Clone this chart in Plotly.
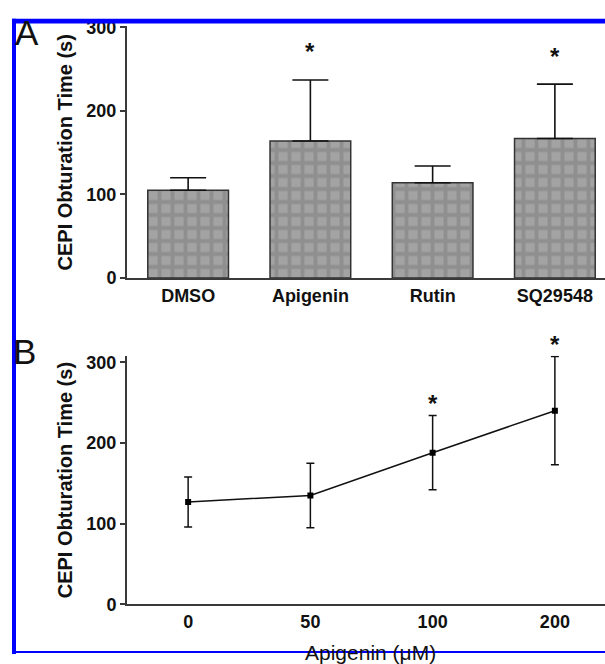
import plotly.graph_objects as go

# ---- Panel A data ----
treatments = ["DMSO", "Apigenin", "Rutin", "SQ29548"]
time_a = [105, 164, 114, 167]
sem_a = [15, 73, 20, 65]
sig_a = [False, True, False, True]

# ---- Panel B data ----
doses = ["0", "50", "100", "200"]
time_b = [127, 135, 188, 240]
sem_b = [31, 40, 46, 67]
sig_b = [False, False, True, True]

W, H = 605, 664
FONT = "Liberation Sans, Arial, sans-serif"
AX = "#3a3a3a"

def px_x(p):
    return p / W

def px_y(p):
    return 1 - p / H

fig = go.Figure()

fig.add_trace(go.Bar(
    x=treatments, y=time_a, width=0.66,
    marker=dict(color="#9d9d9d",
                line=dict(color="#333333", width=1.5),
                pattern=dict(shape="+", fgcolor="#7b7b7b", bgcolor="#a3a3a3",
                             size=13, solidity=0.5)),
    error_y=dict(type="data", symmetric=False, array=sem_a,
                 arrayminus=[0] * len(sem_a), color="#111111",
                 thickness=1.6, width=18),
    xaxis="x", yaxis="y", showlegend=False,
))

fig.add_trace(go.Scatter(
    x=doses, y=time_b, mode="lines+markers",
    line=dict(color="#111111", width=1.5),
    marker=dict(symbol="square", size=6, color="#000000"),
    error_y=dict(type="data", array=sem_b, color="#111111",
                 thickness=1.5, width=4),
    xaxis="x2", yaxis="y2", showlegend=False,
))

STAR = dict(family=FONT, size=24, color="#111", weight="bold")
annotations = []
for i, (v, e, s) in enumerate(zip(time_a, sem_a, sig_a)):
    if s:
        annotations.append(dict(x=i, y=v + e, xref="x", yref="y", yshift=28,
                                text="*", showarrow=False, font=STAR))
for i, (v, e, s) in enumerate(zip(time_b, sem_b, sig_b)):
    if s:
        annotations.append(dict(x=i, y=v + e, xref="x2", yref="y2", yshift=12,
                                text="*", showarrow=False, font=STAR))

annotations += [
    dict(x=px_x(13), y=px_y(2), xref="paper", yref="paper", text="A",
         showarrow=False, xanchor="left", yanchor="top",
         font=dict(family=FONT, size=35, color="#111")),
    dict(x=px_x(11), y=px_y(330), xref="paper", yref="paper", text="B",
         showarrow=False, xanchor="left", yanchor="top",
         font=dict(family=FONT, size=35, color="#111")),
    dict(x=px_x(370), y=px_y(662), xref="paper", yref="paper",
         text="Apigenin (μM)", showarrow=False, xanchor="center", yanchor="middle",
         font=dict(family=FONT, size=21, color="#111")),
]

yaxis_common = dict(
    showline=True, linecolor=AX, linewidth=2, ticks="outside", ticklen=5,
    tickcolor=AX, tickwidth=1.5, showgrid=False, zeroline=False,
    tickfont=dict(family=FONT, size=18, color="#111", weight="bold"),
    title=dict(text="CEPI Obturation Time (s)",
               font=dict(family=FONT, size=20, color="#111", weight="bold"),
               standoff=8),
    tickvals=[0, 100, 200, 300],
)
xaxis_common = dict(
    type="category",
    showline=True, linecolor=AX, linewidth=2, ticks="", showgrid=False,
    zeroline=False, range=[-0.5, 3.41],
    tickfont=dict(family=FONT, size=18, color="#111", weight="bold"),
)

fig.update_layout(
    width=W, height=H, margin=dict(l=0, r=0, t=0, b=0),
    paper_bgcolor="white", plot_bgcolor="white",
    xaxis=dict(domain=[px_x(127), 1], anchor="y", **xaxis_common),
    yaxis=dict(domain=[px_y(277), px_y(18)], anchor="x", range=[0, 301],
               **yaxis_common),
    xaxis2=dict(domain=[px_x(127), 1], anchor="y2", **xaxis_common),
    yaxis2=dict(domain=[px_y(613), px_y(357)], anchor="x2", range=[0, 308],
                **yaxis_common),
    annotations=annotations,
    shapes=[
        dict(type="rect", xref="paper", yref="paper", x0=px_x(12), x1=px_x(16),
             y0=0, y1=px_y(10), fillcolor="#0000ff", line=dict(width=0), layer="above"),
        dict(type="rect", xref="paper", yref="paper", x0=px_x(12), x1=1,
             y0=px_y(15), y1=px_y(10), fillcolor="#0000ff", line=dict(width=0), layer="above"),
        dict(type="rect", xref="paper", yref="paper", x0=px_x(12), x1=1,
             y0=px_y(663), y1=px_y(661), fillcolor="#0000ff", line=dict(width=0), layer="above"),
    ],
)

fig.write_html("out.html")
